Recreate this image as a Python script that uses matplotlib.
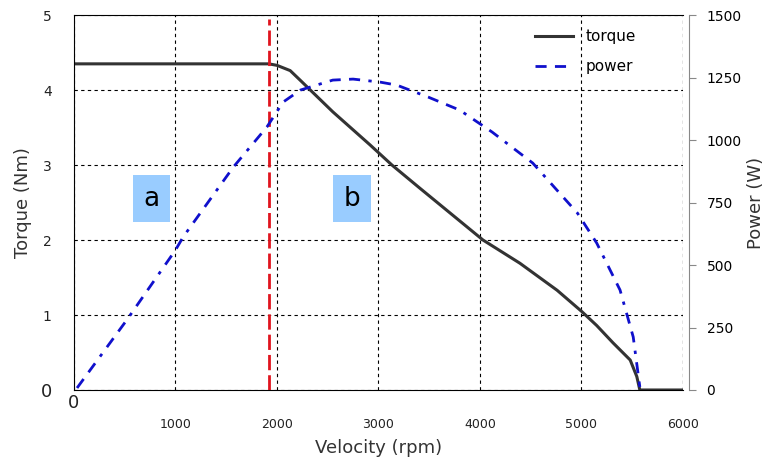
import matplotlib
matplotlib.use("Agg")
import matplotlib.pyplot as plt

# torque curve (Nm) vs velocity (rpm)
torque_rpm = [0, 1920, 2000, 2130, 2230, 2550, 2916, 3133, 3409, 4030,
              4394, 4760, 5000, 5150, 5310, 5480, 5545, 5575, 6000]
torque_nm = [4.35, 4.35, 4.33, 4.26, 4.13, 3.71, 3.27, 3.00, 2.69, 2.00,
             1.69, 1.33, 1.05, 0.86, 0.63, 0.40, 0.18, 0.0, 0.0]

# power curve (W) vs velocity (rpm)
power_rpm = [30, 520, 1000, 1075, 1570, 1900, 2060, 2230, 2550, 2750, 3015,
             3180, 3490, 3800, 4120, 4520, 4960, 5150, 5380, 5510, 5575]
power_w = [8, 280, 560, 612, 892, 1052, 1152, 1200, 1240, 1244, 1232,
           1220, 1172, 1120, 1032, 908, 708, 588, 400, 212, 12]

base_speed = 1920
x_ticks = [0, 1000, 2000, 3000, 4000, 5000, 6000]
torque_ticks = [0, 1, 2, 3, 4, 5]
power_ticks = [0, 250, 500, 750, 1000, 1250, 1500]

plt.rcParams['font.family'] = ['DejaVu Sans']
fig = plt.figure(figsize=(7.66, 4.68), dpi=100)
ax = fig.add_axes([0.0966, 0.1667, 0.795, 0.801])

ax.plot(torque_rpm, torque_nm, color='#333333', lw=2.2, label='torque')
ax.set_xlim(0, 6000)
ax.set_ylim(0, 5)
ax.axvline(base_speed, ymax=0.99, color='#e0141e', lw=2,
           ls=(0, (5.5, 1.8)), zorder=3)

ax.grid(True, color='black', ls=(0, (3, 3)), lw=0.8)
ax.set_axisbelow(True)
ax.axvline(6000, color='black', ls=(0, (3, 3)), lw=0.8)

ax.set_xticks(x_ticks)
ax.set_xticklabels([''] + [str(t) for t in x_ticks[1:]], fontsize=9,
                   color='#222222')
ax.tick_params(axis='x', length=0, pad=20)
# the zero label sits higher and bigger
ax.text(x_ticks[0], -0.05, str(x_ticks[0]), fontsize=13, color='#222222',
        ha='center', va='top')
ax.set_yticks(torque_ticks)
ax.set_yticklabels([str(t) for t in torque_ticks], fontsize=10, color='#222222')
ax.get_yticklabels()[0].set_fontsize(13)
ax.tick_params(axis='y', length=0, pad=16)
ax.spines['right'].set_visible(False)

ax.set_xlabel('Velocity (rpm)', fontsize=13, color='#333333', labelpad=6)
ax.set_ylabel('Torque (Nm)', fontsize=13, color='#333333', labelpad=6)

ax2 = ax.twinx()
ax2.plot(power_rpm, power_w, color='#1010cc', lw=2,
         ls=(0, (4, 3, 4, 3, 1.2, 3)), label='power')
ax2.set_ylim(0, 1500)
ax2.set_yticks(power_ticks)
ax2.set_yticklabels([str(t) for t in power_ticks], fontsize=13, color='#222222')
ax2.tick_params(axis='y', length=5, color='#888888', pad=8)
ax2.spines['right'].set_position(('outward', 4))
ax2.spines['right'].set_color('#888888')
for s in ['left', 'bottom', 'top']:
    ax2.spines[s].set_visible(False)
ax2.set_ylabel('Power (W)', fontsize=13, color='#333333', labelpad=4)

# region labels
box = dict(boxstyle='square,pad=0.4', fc='#99ccff', ec='none')
ax.text(760, 2.55, 'a', fontsize=19, ha='center', va='center', bbox=box)
ax.text(2740, 2.55, 'b', fontsize=19, ha='center', va='center', bbox=box)

h1, l1 = ax.get_legend_handles_labels()
h2, l2 = ax2.get_legend_handles_labels()
ax2.legend(h1 + h2, l1 + l2, loc='upper right', bbox_to_anchor=(0.945, 1.0),
           frameon=False, fontsize=11, handlelength=2.5, handletextpad=0.8,
           labelspacing=1.0)

fig.savefig('out.png', dpi=100)
